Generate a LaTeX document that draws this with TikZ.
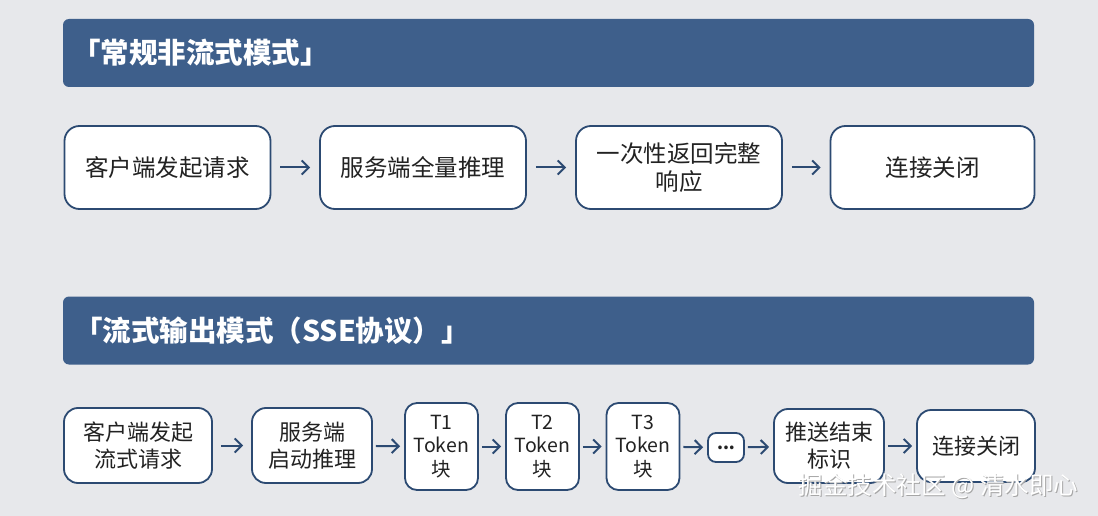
\documentclass[tikz,border=0pt]{standalone}
\usepackage{fontspec}
\setmainfont{Noto Sans CJK SC}
\usetikzlibrary{arrows.meta,positioning}

\definecolor{bandblue}{HTML}{3E5F8B}
\definecolor{edgeblue}{HTML}{2C4A72}
\definecolor{pagegray}{HTML}{E7E8EB}
\definecolor{inkgray}{HTML}{222222}

\tikzset{
	band/.style={fill=bandblue, rounded corners=6pt, minimum width=971pt, minimum height=68pt, inner sep=0pt},
	bandtext/.style={text=white, font=\bfseries\fontsize{28.5}{33}\selectfont, anchor=west, inner sep=0pt},
	stage/.style={draw=edgeblue, line width=1.8pt, fill=white, align=center, text=inkgray, inner sep=0pt},
	bigstage/.style={stage, rounded corners=15pt, minimum width=206pt, minimum height=83pt, font=\fontsize{23.5}{28}\selectfont},
	smallstage/.style={stage, rounded corners=14pt, minimum height=75pt, font=\fontsize{22}{27}\selectfont},
	tokenbox/.style={stage, rounded corners=12pt, minimum width=73pt, minimum height=87pt, font=\fontsize{19.5}{23.5}\selectfont},
	flow/.style={draw=edgeblue, line width=2pt, -{Straight Barb[length=7pt,width=14pt]}},
	watermark/.style={font=\fontsize{24.5}{28}\selectfont, inner sep=0pt},
}

\begin{document}
\begin{tikzpicture}[x=1pt,y=-1pt]
	% Page
	\fill[pagegray] (0,0) rectangle (1098,516);
	\useasboundingbox (0,0) rectangle (1098,516);

	% Headers
	\node[band] (head1) at (548.5,53) {};
	\node[bandtext] (title1) at (72,53) {「常规非流式模式」};
	\node[band] (head2) at (548.5,330.5) {};
	\node[bandtext] (title2) at (74,330.5) {「流式输出模式（SSE协议）」};

	% Non-streaming row
	\node[bigstage] (n1) at (167.5,167.5) {客户端发起请求};
	\node[bigstage] (n2) at (423,167.5) {服务端全量推理};
	\node[bigstage] (n3) at (679,167.5) {一次性返回完整\\响应};
	\node[bigstage, minimum width=204pt] (n4) at (932.5,167.5) {连接关闭};
	\foreach \a/\b in {n1/n2,n2/n3,n3/n4}
		\draw[flow, shorten <=9pt, shorten >=9pt] (\a) -- (\b);

	% Streaming row
	\node[smallstage, minimum width=148pt] (s1) at (138,445.5) {客户端发起\\流式请求};
	\node[smallstage, minimum width=120pt] (s2) at (312,445.5) {服务端\\启动推理};
	\node[tokenbox] (t1) at (441.5,446.5) {T1\\Token\\块};
	\node[tokenbox] (t2) at (542.5,446.5) {T2\\Token\\块};
	\node[tokenbox] (t3) at (643,446.5) {T3\\Token\\块};
	\node[stage, rounded corners=8pt, minimum width=36pt, minimum height=29pt, font=\bfseries\fontsize{17}{18}\selectfont] (dots) at (726,447.5) {...};
	\node[smallstage, minimum width=110pt, minimum height=74pt] (s3) at (829,446) {推送结束\\标识};
	\node[smallstage, minimum width=118pt, minimum height=72pt] (s4) at (976,446) {连接关闭};

	\draw[flow, shorten <=8pt, shorten >=8pt] (s1) -- (s2);
	\foreach \a/\b in {s2/t1,t1/t2,t2/t3,t3/dots,dots/s3,s3/s4}
		\draw[flow, shorten <=3pt, shorten >=4pt] (\a) -- (\b);

	% Watermark
	\node[watermark, text=gray!70] (mark0) at (939.5,487) {掘金技术社区 @ 清水即心};
	\node[watermark, text=white] (mark) at (938.5,486) {掘金技术社区 @ 清水即心};
\end{tikzpicture}
\end{document}
